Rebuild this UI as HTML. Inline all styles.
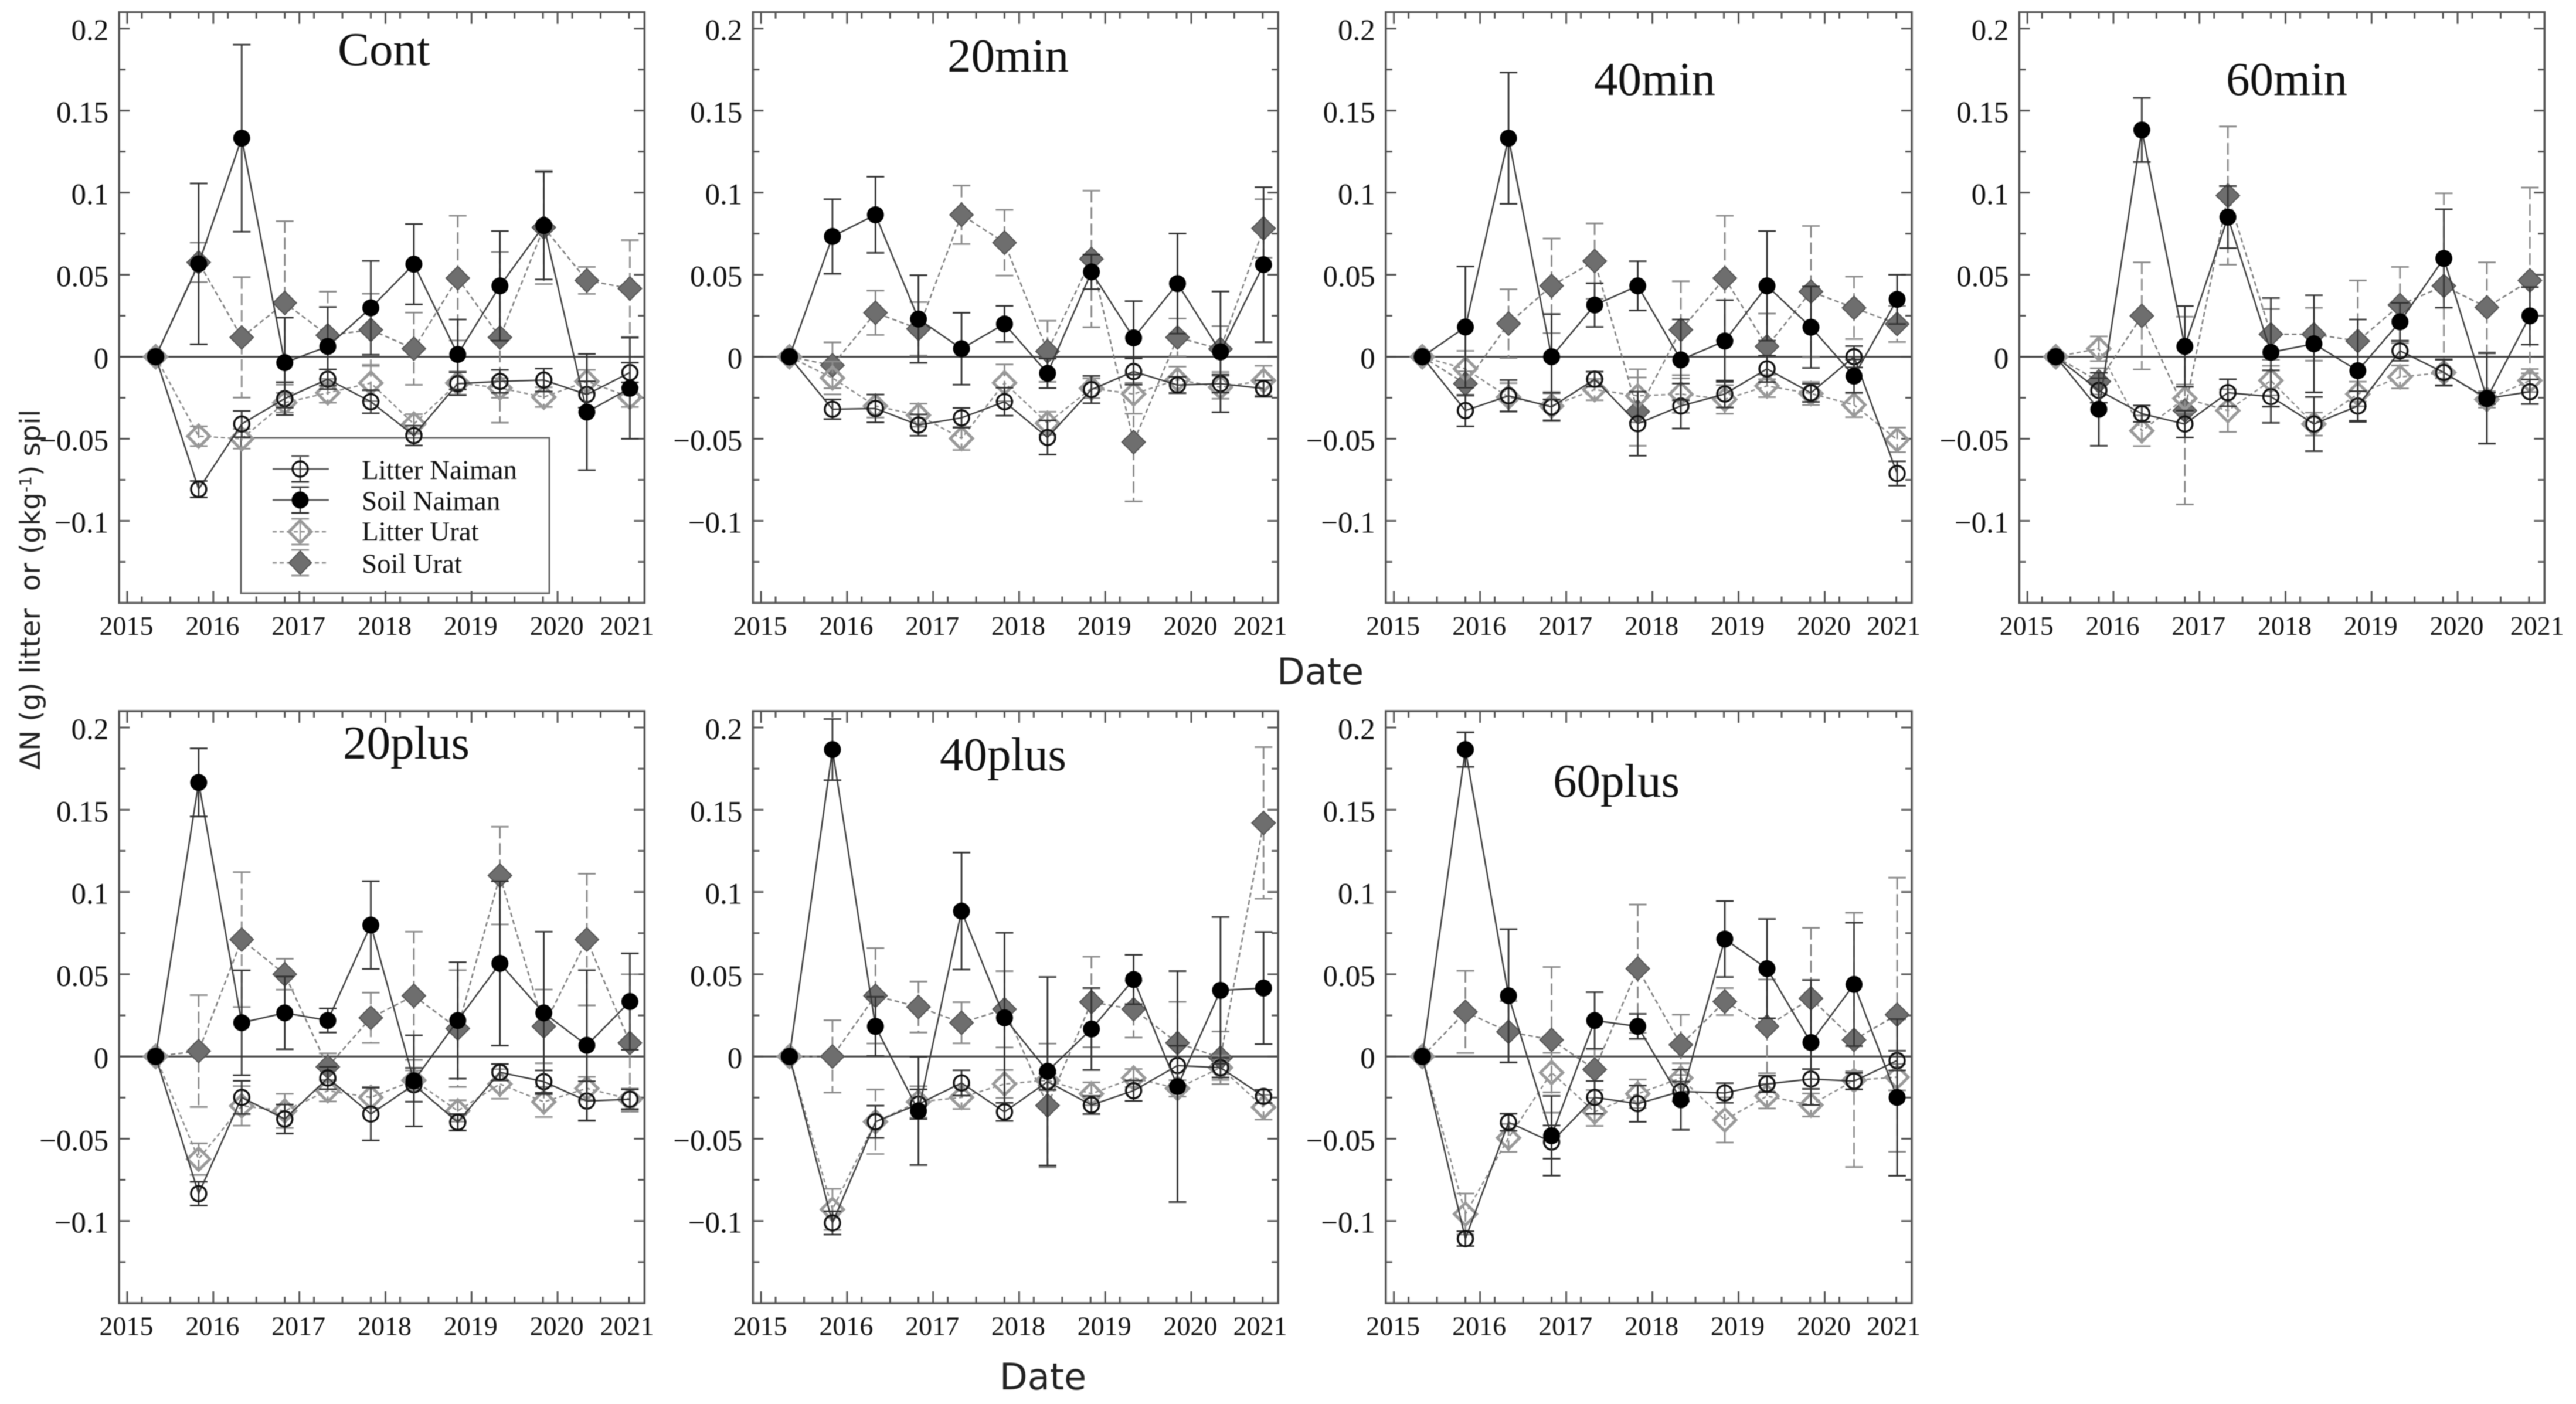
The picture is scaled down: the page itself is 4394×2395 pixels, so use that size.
<!DOCTYPE html>
<html lang="en">
<head>
<meta charset="utf-8">
<title>Change in nitrogen in litter and soil by treatment</title>
<style>
html,body{margin:0;padding:0;background:#fff;width:4394px;height:2395px;overflow:hidden}
svg{display:block;filter:blur(0.8px)}
.serif{font-family:"Liberation Serif","Noto Serif CJK SC",serif;fill:#111}
.sans{font-family:"DejaVu Sans","Liberation Sans",sans-serif;fill:#222}
</style>
</head>
<body>
<svg id="figure" xmlns="http://www.w3.org/2000/svg" width="4394" height="2395" viewBox="0 0 4394 2395">
  <rect x="0" y="0" width="4394" height="2395" fill="#fff"/>

  <text class="sans" font-size="47" transform="translate(68,1313) rotate(-90)" xml:space="preserve">ΔN (g) litter  or (gkg<tspan font-size="28" dy="-15">-1</tspan><tspan dy="15">) spil</tspan></text>
  <text class="sans" font-size="62" x="2178" y="1167">Date</text>
  <text class="sans" font-size="62" x="1705" y="2370">Date</text>

  <g>
    <rect x="411" y="747" width="526" height="265" fill="#fff" stroke="#666" stroke-width="3"/>
    <g>
      <line x1="465" x2="561" y1="800" y2="800" stroke="#666" stroke-width="3"/>
      <line x1="512" x2="512" y1="778" y2="822" stroke="#333" stroke-width="2.5"/>
      <line x1="497" x2="527" y1="778" y2="778" stroke="#666" stroke-width="3"/>
      <line x1="497" x2="527" y1="822" y2="822" stroke="#333" stroke-width="3"/>
      <circle cx="512" cy="800" r="13" fill="none" stroke="#111" stroke-width="3.5"/>
      <text class="serif" font-size="47" x="617" y="817">Litter Naiman</text>
    </g>
    <g>
      <line x1="465" x2="561" y1="853" y2="853" stroke="#666" stroke-width="3"/>
      <line x1="512" x2="512" y1="831" y2="875" stroke="#333" stroke-width="2.5"/>
      <line x1="497" x2="527" y1="831" y2="831" stroke="#444" stroke-width="3"/>
      <line x1="497" x2="527" y1="875" y2="875" stroke="#333" stroke-width="3"/>
      <circle cx="512" cy="853" r="14.5" fill="#000"/>
      <text class="serif" font-size="47" x="617" y="870">Soil Naiman</text>
    </g>
    <g>
      <line x1="465" x2="561" y1="907" y2="907" stroke="#999" stroke-width="3" stroke-dasharray="7 5"/>
      <line x1="512" x2="512" y1="885" y2="929" stroke="#999" stroke-width="2.5"/>
      <line x1="497" x2="527" y1="885" y2="885" stroke="#999" stroke-width="3"/>
      <line x1="497" x2="527" y1="929" y2="929" stroke="#999" stroke-width="3"/>
      <polygon points="512,888 531,907 512,926 493,907" fill="none" stroke="#999" stroke-width="5"/>
      <text class="serif" font-size="47" x="617" y="922">Litter Urat</text>
    </g>
    <g>
      <line x1="465" x2="561" y1="960" y2="960" stroke="#999" stroke-width="3" stroke-dasharray="7 5"/>
      <line x1="497" x2="527" y1="938" y2="938" stroke="#999" stroke-width="3"/>
      <line x1="497" x2="527" y1="982" y2="982" stroke="#999" stroke-width="3"/>
      <polygon points="512,940 531,960 512,980 493,960" fill="#6e6e6e" stroke="#555" stroke-width="2"/>
      <text class="serif" font-size="47" x="617" y="977">Soil Urat</text>
    </g>
  </g>
</svg>

<script>
// ---- Shared axis data ----
const dates = [2015.33, 2015.83, 2016.33, 2016.83, 2017.33, 2017.83, 2018.33, 2018.84, 2019.33, 2019.84, 2020.34, 2020.84];
const yTickValues = [0.2, 0.15, 0.1, 0.05, 0, -0.05, -0.1];
const yTickLabels = ["0.2", "0.15", "0.1", "0.05", "0", "\u22120.05", "\u22120.1"];
const yMinorValues = [0.175, 0.125, 0.075, 0.025, -0.025, -0.075, -0.125];
const xTickYears = [2015, 2016, 2017, 2018, 2019, 2020];
const xTickLabels = ["2015", "2016", "2017", "2018", "2019", "2020", "2021"];
const xMinorYears = [2015.17, 2015.5, 2015.83, 2016.17, 2016.5, 2016.83, 2017.17, 2017.5, 2017.83, 2018.17, 2018.5, 2018.83, 2019.17, 2019.5, 2019.83, 2020.17, 2020.5, 2020.83];
const xDomain = [2014.906, 2021.01];
const yDomain = [-0.15, 0.21];

// ---- Cont ----
const contLitterNaiman = [0, -0.0807, -0.041, -0.0255, -0.0137, -0.0274, -0.048, -0.0164, -0.015, -0.0142, -0.023, -0.0096];
const contLitterNaimanErr = [0, 0.005, 0.008, 0.01, 0.006, 0.007, 0.006, 0.007, 0.007, 0.007, 0.008, 0.006];
const contSoilNaiman = [0, 0.0566, 0.1332, -0.0036, 0.0063, 0.0298, 0.0564, 0.0014, 0.0432, 0.0799, -0.0337, -0.0192];
const contSoilNaimanErr = [0, 0.049, 0.057, 0.0274, 0.024, 0.0286, 0.0245, 0.0213, 0.0334, 0.0328, 0.0354, 0.0308];
const contLitterUrat = [0, -0.0484, -0.05, -0.028, -0.022, -0.016, -0.041, -0.016, -0.019, -0.0246, -0.015, -0.0246];
const contLitterUratErr = [0, 0.006, 0.006, 0.006, 0.006, 0.011, 0.006, 0.007, 0.006, 0.006, 0.007, 0.006];
const contSoilUrat = [0, 0.0575, 0.0118, 0.0328, 0.0131, 0.0164, 0.0049, 0.0479, 0.0118, 0.0788, 0.0465, 0.0416];
const contSoilUratErr = [0, 0.012, 0.0367, 0.0498, 0.0266, 0.022, 0.022, 0.038, 0.052, 0.0345, 0.0082, 0.0295];

// ---- 20min ----
const min20LitterNaiman = [0, -0.032, -0.0315, -0.0416, -0.0372, -0.0274, -0.0492, -0.02, -0.009, -0.0172, -0.0164, -0.0194];
const min20LitterNaimanErr = [0, 0.006, 0.0085, 0.0065, 0.006, 0.0085, 0.0104, 0.0083, 0.008, 0.005, 0.0055, 0.005];
const min20SoilNaiman = [0, 0.0733, 0.0865, 0.023, 0.0049, 0.02, -0.0101, 0.0517, 0.0115, 0.0446, 0.003, 0.0561];
const min20SoilNaimanErr = [0, 0.0227, 0.0232, 0.0267, 0.0219, 0.011, 0.009, 0.0105, 0.0224, 0.0305, 0.0368, 0.0472];
const min20LitterUrat = [0, -0.0129, -0.03, -0.0356, -0.0498, -0.0159, -0.0405, -0.0192, -0.0227, -0.014, -0.0186, -0.0145];
const min20LitterUratErr = [0, 0.01, 0.007, 0.007, 0.007, 0.0112, 0.007, 0.006, 0.012, 0.008, 0.007, 0.009];
const min20SoilUrat = [0, -0.0052, 0.0268, 0.017, 0.0865, 0.0695, 0.0033, 0.0596, -0.052, 0.0118, 0.0047, 0.0782];
const min20SoilUratErr = [0, 0.014, 0.0135, 0.0163, 0.0178, 0.02, 0.0186, 0.0416, 0.0361, 0.0115, 0.014, 0.0178];

// ---- 40min ----
const min40LitterNaiman = [0, -0.0328, -0.0238, -0.0306, -0.0137, -0.0408, -0.03, -0.0227, -0.0074, -0.022, 0, -0.0711];
const min40LitterNaimanErr = [0, 0.0096, 0.0096, 0.0085, 0.0046, 0.0195, 0.0137, 0.0082, 0.008, 0.0055, 0.0065, 0.0074];
const min40SoilNaiman = [0, 0.0181, 0.1332, 0, 0.0315, 0.0432, -0.0019, 0.0096, 0.0432, 0.018, -0.0118, 0.035];
const min40SoilNaimanErr = [0, 0.0369, 0.04, 0.026, 0.0133, 0.015, 0.0246, 0.0249, 0.0334, 0.0248, 0.0102, 0.015];
const min40LitterUrat = [0, -0.0074, -0.0246, -0.03, -0.02, -0.0238, -0.0227, -0.026, -0.0178, -0.0224, -0.0293, -0.0506];
const min40LitterUratErr = [0, 0.011, 0.0085, 0.0085, 0.0065, 0.0162, 0.0115, 0.0087, 0.0068, 0.007, 0.0075, 0.0075];
const min40SoilUrat = [0, -0.0164, 0.0202, 0.0432, 0.0583, -0.0334, 0.0164, 0.0479, 0.0063, 0.0397, 0.0298, 0.02];
const min40SoilUratErr = [0, 0.0075, 0.0209, 0.0288, 0.023, 0.0208, 0.0296, 0.038, 0.02, 0.04, 0.019, 0.011];

// ---- 60min ----
const min60LitterNaiman = [0, -0.0205, -0.0347, -0.041, -0.0219, -0.0243, -0.041, -0.03, 0.0036, -0.0096, -0.0254, -0.0213];
const min60LitterNaimanErr = [0, 0.0075, 0.005, 0.0082, 0.0082, 0.016, 0.0165, 0.009, 0.006, 0.0078, 0.0035, 0.0075];
const min60SoilNaiman = [0, -0.032, 0.1382, 0.0063, 0.0851, 0.0027, 0.0079, -0.0085, 0.0213, 0.0599, -0.0254, 0.0249];
const min60SoilNaimanErr = [0, 0.0222, 0.0195, 0.0246, 0.0189, 0.0331, 0.0296, 0.0312, 0.0115, 0.03, 0.0275, 0.0175];
const min60LitterUrat = [0, 0.0049, -0.0451, -0.0254, -0.0328, -0.0145, -0.041, -0.0227, -0.0123, -0.0096, -0.026, -0.0145];
const min60LitterUratErr = [0, 0.0075, 0.0093, 0.0085, 0.013, 0.009, 0.007, 0.0075, 0.007, 0.0082, 0.005, 0.007];
const min60SoilUrat = [0, -0.015, 0.0249, -0.0328, 0.0982, 0.0137, 0.0137, 0.0096, 0.0315, 0.0432, 0.0301, 0.0465];
const min60SoilUratErr = [0, 0.008, 0.0326, 0.0572, 0.0421, 0.0155, 0.0161, 0.0369, 0.0232, 0.0564, 0.0274, 0.0566];

// ---- 20plus ----
const plus20LitterNaiman = [0, -0.0834, -0.0249, -0.038, -0.0131, -0.035, -0.0172, -0.04, -0.0096, -0.0153, -0.0271, -0.026];
const plus20LitterNaimanErr = [0, 0.0072, 0.0101, 0.0088, 0.0068, 0.016, 0.0103, 0.005, 0.005, 0.0068, 0.012, 0.006];
const plus20SoilNaiman = [0, 0.1666, 0.0205, 0.0265, 0.0219, 0.0799, -0.0148, 0.0219, 0.0566, 0.0265, 0.0068, 0.0334];
const plus20SoilNaimanErr = [0, 0.0207, 0.0319, 0.0221, 0.0073, 0.0267, 0.0277, 0.0354, 0.05, 0.0494, 0.0457, 0.0293];
const plus20LitterUrat = [0, -0.0624, -0.03, -0.0331, -0.0208, -0.0249, -0.0145, -0.0331, -0.0167, -0.0276, -0.0194, -0.026];
const plus20LitterUratErr = [0, 0.0096, 0.012, 0.0104, 0.0065, 0.0064, 0.006, 0.0065, 0.009, 0.0092, 0.007, 0.0065];
const plus20SoilUrat = [0, 0.0033, 0.0711, 0.05, -0.0063, 0.0235, 0.0369, 0.017, 0.11, 0.0183, 0.0711, 0.0082];
const plus20SoilUratErr = [0, 0.034, 0.041, 0.0094, 0.0082, 0.0153, 0.039, 0.0355, 0.0297, 0.0224, 0.04, 0.0418];

// ---- 40plus ----
const plus40LitterNaiman = [0, -0.1012, -0.0397, -0.029, -0.0161, -0.0337, -0.0153, -0.0295, -0.0208, -0.0055, -0.0068, -0.0243];
const plus40LitterNaimanErr = [0, 0.0071, 0.0098, 0.009, 0.0077, 0.0055, 0.005, 0.0055, 0.0062, 0.012, 0.006, 0.004];
const plus40SoilNaiman = [0, 0.1866, 0.0183, -0.0331, 0.0884, 0.0235, -0.009, 0.0167, 0.0468, -0.0183, 0.0402, 0.0416];
const plus40SoilNaimanErr = [0, 0.0186, 0.018, 0.0329, 0.0356, 0.0517, 0.0573, 0.0249, 0.015, 0.0702, 0.0446, 0.0341];
const plus40LitterUrat = [0, -0.093, -0.0397, -0.0276, -0.0249, -0.0167, -0.0145, -0.0227, -0.0131, -0.0194, -0.0068, -0.0309];
const plus40LitterUratErr = [0, 0.0125, 0.0196, 0.0095, 0.007, 0.0085, 0.006, 0.007, 0.0055, 0.005, 0.0075, 0.0075];
const plus40SoilUrat = [0, 0, 0.0369, 0.0301, 0.0205, 0.0287, -0.0298, 0.0331, 0.0287, 0.0082, -0.0008, 0.142];
const plus40SoilUratErr = [0, 0.022, 0.029, 0.0155, 0.0125, 0.0232, 0.0376, 0.0275, 0.0172, 0.025, 0.016, 0.0461];

// ---- 60plus ----
const plus60LitterNaiman = [0, -0.1108, -0.04, -0.052, -0.0249, -0.0287, -0.0213, -0.0222, -0.0167, -0.0137, -0.015, -0.0025];
const plus60LitterNaimanErr = [0, 0.0045, 0.0052, 0.0101, 0.01, 0.011, 0.006, 0.006, 0.005, 0.006, 0.005, 0.006];
const plus60SoilNaiman = [0, 0.1866, 0.0369, -0.0482, 0.0219, 0.0183, -0.0263, 0.0714, 0.0534, 0.0085, 0.0438, -0.0249];
const plus60SoilNaimanErr = [0, 0.0105, 0.0405, 0.0242, 0.0172, 0.0076, 0.0183, 0.0231, 0.0302, 0.038, 0.0375, 0.0476];
const plus60LitterUrat = [0, -0.0958, -0.0495, -0.0098, -0.0337, -0.0227, -0.0131, -0.0386, -0.0241, -0.0295, -0.0145, -0.0126];
const plus60LitterUratErr = [0, 0.0125, 0.0085, 0.012, 0.0085, 0.0087, 0.009, 0.0137, 0.0075, 0.007, 0.0055, 0.008];
const plus60SoilUrat = [0, 0.0271, 0.015, 0.0101, -0.0079, 0.0534, 0.0071, 0.0334, 0.0183, 0.0353, 0.0101, 0.0254];
const plus60SoilUratErr = [0, 0.025, 0.0187, 0.0443, 0.0125, 0.039, 0.0183, 0.0082, 0.0285, 0.0429, 0.0773, 0.0833];

const panelTitles = ["Cont", "20min", "40min", "60min", "20plus", "40plus", "60plus"];

// One entry per panel: [litterNaiman, err, soilNaiman, err, litterUrat, err, soilUrat, err]
const panelData = [
  [contLitterNaiman, contLitterNaimanErr, contSoilNaiman, contSoilNaimanErr, contLitterUrat, contLitterUratErr, contSoilUrat, contSoilUratErr],
  [min20LitterNaiman, min20LitterNaimanErr, min20SoilNaiman, min20SoilNaimanErr, min20LitterUrat, min20LitterUratErr, min20SoilUrat, min20SoilUratErr],
  [min40LitterNaiman, min40LitterNaimanErr, min40SoilNaiman, min40SoilNaimanErr, min40LitterUrat, min40LitterUratErr, min40SoilUrat, min40SoilUratErr],
  [min60LitterNaiman, min60LitterNaimanErr, min60SoilNaiman, min60SoilNaimanErr, min60LitterUrat, min60LitterUratErr, min60SoilUrat, min60SoilUratErr],
  [plus20LitterNaiman, plus20LitterNaimanErr, plus20SoilNaiman, plus20SoilNaimanErr, plus20LitterUrat, plus20LitterUratErr, plus20SoilUrat, plus20SoilUratErr],
  [plus40LitterNaiman, plus40LitterNaimanErr, plus40SoilNaiman, plus40SoilNaimanErr, plus40LitterUrat, plus40LitterUratErr, plus40SoilUrat, plus40SoilUratErr],
  [plus60LitterNaiman, plus60LitterNaimanErr, plus60SoilNaiman, plus60SoilNaimanErr, plus60LitterUrat, plus60LitterUratErr, plus60SoilUrat, plus60SoilUratErr]
];

// ---- Layout (pixels) ----
function panelBox(left, right, top, bottom, titleX, titleY, lastLabelFrac) {
  return { left, right, top, bottom, titleX, titleY, lastLabelFrac };
}
const layout = [
  panelBox(203.2, 1099.4, 20.7, 1028.5, 576, 111, 0.9666),
  panelBox(1284.3, 2180.2, 20.7, 1028.5, 1616, 122, 0.9657),
  panelBox(2363.8, 3261, 20.7, 1028.5, 2719, 162, 0.9656),
  panelBox(3444.4, 4340.3, 20.7, 1028.5, 3797, 162, 0.986),
  panelBox(203.2, 1099.4, 1213, 2223, 585, 1294, 0.9666),
  panelBox(1284.3, 2180.2, 1213, 2223, 1603, 1314, 0.9657),
  panelBox(2363.8, 3261, 1213, 2223, 2649, 1359, 0.9656)
];

const SVG_NS = "http://www.w3.org/2000/svg";
const root = document.getElementById("figure");

function make(tag, parent, props) {
  const node = document.createElementNS(SVG_NS, tag);
  for (const key in props) node.setAttribute(key, props[key]);
  parent.appendChild(node);
  return node;
}

function xPos(box, year) {
  return box.left + (year - xDomain[0]) / (xDomain[1] - xDomain[0]) * (box.right - box.left);
}
function yPos(box, value) {
  return box.bottom - (value - yDomain[0]) / (yDomain[1] - yDomain[0]) * (box.bottom - box.top);
}

function drawAxes(group, box) {
  const plain = { stroke: "#555", "stroke-width": 3, fill: "none" };
  yTickValues.forEach(function (v, i) {
    const y = yPos(box, v);
    const tickL = make("line", group, Object.assign({ x1: box.left, x2: box.left + 18, y1: y, y2: y }, plain));
    
    
    const tickR = make("line", group, Object.assign({ x1: box.right - 18, x2: box.right, y1: y, y2: y }, plain));
    
    
    const label = make("text", group, { x: box.left - 18, y: y + 20, "text-anchor": "end", "font-size": 51, class: "serif" });
    label.textContent = yTickLabels[i];
    
    
  });
  yMinorValues.forEach(function (v) {
    const y = yPos(box, v);
    const tickL = make("line", group, Object.assign({ x1: box.left, x2: box.left + 11, y1: y, y2: y }, plain));
    
    
    const tickR = make("line", group, Object.assign({ x1: box.right - 11, x2: box.right, y1: y, y2: y }, plain));
    
    
  });
  xTickYears.forEach(function (yr) {
    const x = xPos(box, yr);
    const tickB = make("line", group, Object.assign({ x1: x, x2: x, y1: box.bottom, y2: box.bottom - 20 }, plain));
    
    
    const tickT = make("line", group, Object.assign({ x1: x, x2: x, y1: box.top, y2: box.top + 20 }, plain));
    
    
  });
  xMinorYears.forEach(function (yr) {
    const x = xPos(box, yr);
    const tickB = make("line", group, Object.assign({ x1: x, x2: x, y1: box.bottom, y2: box.bottom - 11 }, plain));
    
    
    const tickT = make("line", group, Object.assign({ x1: x, x2: x, y1: box.top, y2: box.top + 11 }, plain));
    
    
  });
  xTickLabels.forEach(function (text, i) {
    const isLast = i === xTickLabels.length - 1;
    const x = isLast ? box.left + box.lastLabelFrac * (box.right - box.left) : xPos(box, xTickYears[i]) - 1.5;
    const label = make("text", group, { x: x, y: box.bottom + 54.5, "text-anchor": "middle", "font-size": 46, class: "serif" });
    label.textContent = text;
    
    
  });
}

function drawSeries(group, box, values, errors, style, kind) {
  const g = make("g", group, {});
  
  

  const pts = values.map(function (v, i) { return xPos(box, dates[i]) + "," + yPos(box, v); }).join(" ");
  const line = make("polyline", g, { points: pts, fill: "none", stroke: style.line, "stroke-width": 2.5, "stroke-dasharray": style.dash });
  
  

  values.forEach(function (v, i) {
    if (!errors[i]) return;
    const x = xPos(box, dates[i]);
    const yTop = yPos(box, v + errors[i]);
    const yBot = yPos(box, v - errors[i]);
    const bar = make("line", g, { x1: x, x2: x, y1: yTop, y2: yBot, stroke: style.err, "stroke-width": 2.8, "stroke-dasharray": style.errDash });
    
    
    const capT = make("line", g, { x1: x - 15, x2: x + 15, y1: yTop, y2: yTop, stroke: style.err, "stroke-width": 2.8 });
    
    
    const capB = make("line", g, { x1: x - 15, x2: x + 15, y1: yBot, y2: yBot, stroke: style.err, "stroke-width": 2.8 });
    
    
  });

  values.forEach(function (v, i) {
    const x = xPos(box, dates[i]);
    const y = yPos(box, v);
    let mark;
    if (style.shape === "circle") {
      mark = make("circle", g, { cx: x, cy: y, r: style.size, fill: style.fill, stroke: style.stroke, "stroke-width": style.strokeWidth });
    } else {
      const s = style.size;
      mark = make("polygon", g, { points: x + "," + (y - s) + " " + (x + s) + "," + y + " " + x + "," + (y + s) + " " + (x - s) + "," + y, fill: style.fill, stroke: style.stroke, "stroke-width": style.strokeWidth });
    }
    
    
  });
}

const styleLitterNaiman = { line: "#3a3a3a", dash: "none", err: "#333", errDash: "none", shape: "circle", size: 13, fill: "none", stroke: "#111", strokeWidth: 3.5 };
const styleSoilNaiman = { line: "#3a3a3a", dash: "none", err: "#333", errDash: "none", shape: "circle", size: 14.5, fill: "#000", stroke: "#000", strokeWidth: 0 };
const styleLitterUrat = { line: "#8a8a8a", dash: "7 5", err: "#8c8c8c", errDash: "20 8", shape: "diamond", size: 19, fill: "none", stroke: "#999", strokeWidth: 5 };
const styleSoilUrat = { line: "#7c7c7c", dash: "8 5", err: "#888", errDash: "20 8", shape: "diamond", size: 20, fill: "#6e6e6e", stroke: "#555", strokeWidth: 2 };

layout.forEach(function (box, p) {
  const group = make("g", root, {});
  
  

  const data = panelData[p];
  drawAxes(group, box);

  const zero = make("line", group, { x1: box.left, x2: box.right, y1: yPos(box, 0), y2: yPos(box, 0), stroke: "#444", "stroke-width": 3 });
  
  

  drawSeries(group, box, data[6], data[7], styleSoilUrat, "soil-urat");
  drawSeries(group, box, data[4], data[5], styleLitterUrat, "litter-urat");
  drawSeries(group, box, data[0], data[1], styleLitterNaiman, "litter-naiman");
  drawSeries(group, box, data[2], data[3], styleSoilNaiman, "soil-naiman");

  const frame = make("rect", group, { x: box.left, y: box.top, width: box.right - box.left, height: box.bottom - box.top, fill: "none", stroke: "#555", "stroke-width": 3.5 });
  
  

  const title = make("text", group, { x: box.titleX, y: box.titleY, "font-size": 81, class: "serif" });
  title.textContent = panelTitles[p];
  
  
});
</script>
</body>
</html>
